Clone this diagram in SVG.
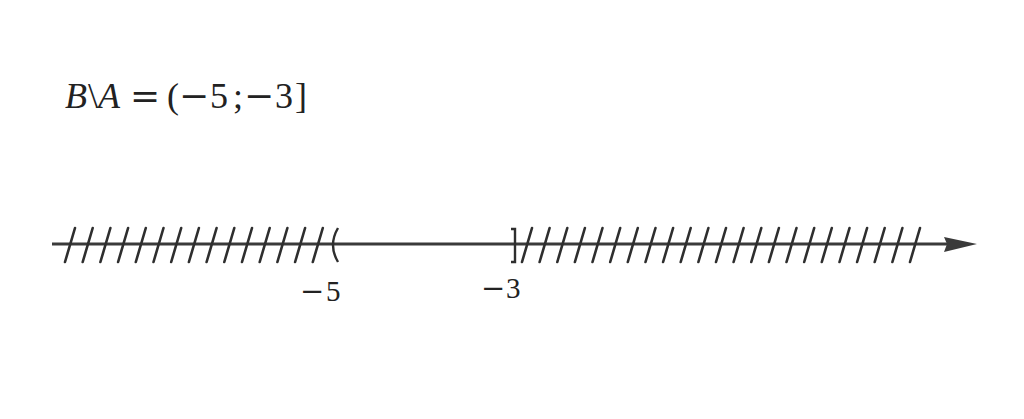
<svg xmlns="http://www.w3.org/2000/svg" width="1024" height="419" viewBox="0 0 1024 419">
<defs>
<style>
.t{font-family:"Liberation Serif","DejaVu Serif",serif;fill:#222222}
.i{font-style:italic}
.m{font-family:"DejaVu Serif",serif}
.ax{stroke:#3a3a3a;stroke-width:3;fill:none}
.h{stroke:#2e2e2e;stroke-width:2.6;stroke-linecap:round}
.br{stroke:#2e2e2e;stroke-width:2.4;fill:none}
</style>
<path id="hs" d="M-5,18 L5,-16" class="h"/>
</defs>
<rect width="1024" height="419" fill="#ffffff"/>
<g id="title">
<text class="t" font-size="36" y="108"><tspan class="i" x="65">B</tspan><tspan x="88">\</tspan><tspan class="i" x="98">A</tspan><tspan class="m" x="130">=</tspan><tspan x="167">(</tspan><tspan class="m" x="179">−</tspan><tspan x="210">5</tspan><tspan x="233">;</tspan><tspan class="m" x="244">−</tspan><tspan x="275">3</tspan><tspan x="295">]</tspan></text>
</g>
<g id="connectors">
<line class="ax" x1="52" y1="244" x2="950" y2="244"/>
<polygon points="944,237 977,244 944,252 947,244" fill="#3a3a3a"/>
</g>
<g id="hatch-left">
<use href="#hs" x="70" y="244"/><use href="#hs" x="87.7" y="244"/><use href="#hs" x="105.4" y="244"/><use href="#hs" x="123.1" y="244"/><use href="#hs" x="140.8" y="244"/><use href="#hs" x="158.5" y="244"/><use href="#hs" x="176.2" y="244"/><use href="#hs" x="193.9" y="244"/><use href="#hs" x="211.6" y="244"/><use href="#hs" x="229.3" y="244"/><use href="#hs" x="247" y="244"/><use href="#hs" x="264.7" y="244"/><use href="#hs" x="282.4" y="244"/><use href="#hs" x="300.1" y="244"/><use href="#hs" x="317.8" y="244"/>
</g>
<g id="point-minus5">
<path class="br" d="M338,228 Q328,245 338,262"/>
<text class="t" font-size="29" y="301"><tspan class="m" x="300">−</tspan><tspan x="326">5</tspan></text>
</g>
<g id="point-minus3">
<path class="br" d="M511,229 L515,229 L515,262 L511,262"/>
<text class="t" font-size="29" y="298"><tspan class="m" x="481">−</tspan><tspan x="506">3</tspan></text>
</g>
<g id="hatch-right">
<use href="#hs" x="527" y="244"/><use href="#hs" x="544.6" y="244"/><use href="#hs" x="562.3" y="244"/><use href="#hs" x="579.9" y="244"/><use href="#hs" x="597.5" y="244"/><use href="#hs" x="615.2" y="244"/><use href="#hs" x="632.8" y="244"/><use href="#hs" x="650.5" y="244"/><use href="#hs" x="668.1" y="244"/><use href="#hs" x="685.7" y="244"/><use href="#hs" x="703.4" y="244"/><use href="#hs" x="721" y="244"/><use href="#hs" x="738.6" y="244"/><use href="#hs" x="756.3" y="244"/><use href="#hs" x="773.9" y="244"/><use href="#hs" x="791.5" y="244"/><use href="#hs" x="809.2" y="244"/><use href="#hs" x="826.8" y="244"/><use href="#hs" x="844.5" y="244"/><use href="#hs" x="862.1" y="244"/><use href="#hs" x="879.7" y="244"/><use href="#hs" x="897.4" y="244"/><use href="#hs" x="915" y="244"/>
</g>
</svg>
